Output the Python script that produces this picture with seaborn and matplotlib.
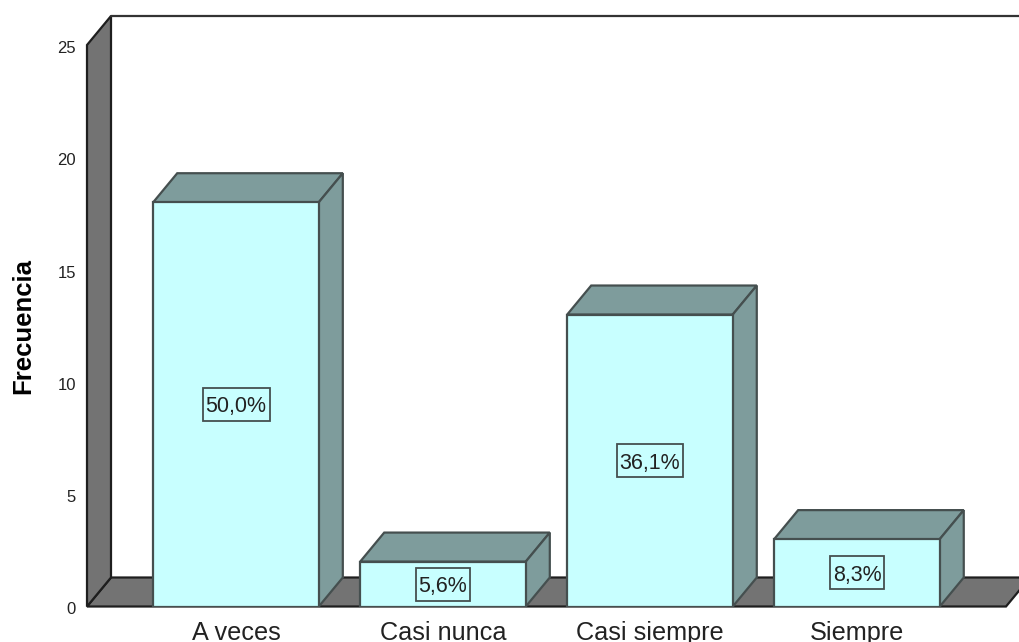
import matplotlib
matplotlib.use('Agg')
import matplotlib.pyplot as plt
import matplotlib.transforms as mtrans
import seaborn as sns
import pandas as pd
from matplotlib.patches import Polygon, Rectangle

# Datos
categorias = ['A veces', 'Casi nunca', 'Casi siempre', 'Siempre']
frecuencias = [18, 2, 13, 3]
porcentajes = ['50,0%', '5,6%', '36,1%', '8,3%']
ticks_y = [0, 5, 10, 15, 20, 25]

color_frente = '#C8FFFF'
color_lado = '#7E9C9C'
color_pared = '#737373'
color_borde = '#454F4F'

sns.set_theme(style='white')
plt.rcParams['font.family'] = ['Liberation Sans', 'DejaVu Sans']

W, H = 1019, 642
fig = plt.figure(figsize=(W / 100, H / 100), dpi=100)
# plano frontal del grafico, en pixeles de la imagen
x0, x1, y_cero, y_25 = 87, 1006, 606.5, 45
ax = fig.add_axes([x0 / W, 1 - y_cero / H, (x1 - x0) / W, (y_cero - y_25) / H])

df = pd.DataFrame({'categoria': categorias, 'frecuencia': frecuencias})
sns.barplot(data=df, x='categoria', y='frecuencia', ax=ax, color=color_frente, saturation=1,
            width=0.8, edgecolor=color_borde, linewidth=1.6, zorder=5)
ax.set_xlim(-0.72, 3.72)
ax.set_ylim(0, 25)

# Profundidad del efecto 3D, en unidades de datos
dx = 24 / ((x1 - x0) / 4.44)
dy = 29 / ((y_cero - y_25) / 25)
xi, xf = ax.get_xlim()
ytop = ax.get_ylim()[1]

# Piso y pared izquierda
ax.add_patch(Polygon([(xi, 0), (xf, 0), (xf + dx, dy), (xi + dx, dy)], closed=True, clip_on=False,
                     facecolor=color_pared, edgecolor='#1E1E1E', linewidth=1.6, zorder=1))
ax.add_patch(Polygon([(xi, 0), (xi + dx, dy), (xi + dx, ytop + dy), (xi, ytop)], closed=True, clip_on=False,
                     facecolor=color_pared, edgecolor='#1E1E1E', linewidth=1.6, zorder=1))
ax.plot([xi + dx, xf + dx], [ytop + dy, ytop + dy], color='#333333', lw=1.6, clip_on=False, zorder=1)

# Caras superior y lateral de cada barra
textos = []
for barra, etiqueta in zip(list(ax.patches[:len(categorias)]), porcentajes):
    a = barra.get_x()
    b = a + barra.get_width()
    h = barra.get_height()
    ax.add_patch(Polygon([(a, h), (b, h), (b + dx, h + dy), (a + dx, h + dy)], closed=True, clip_on=False,
                         facecolor=color_lado, edgecolor=color_borde, linewidth=1.6, zorder=4))
    ax.add_patch(Polygon([(b, 0), (b + dx, dy), (b + dx, h + dy), (b, h)], closed=True, clip_on=False,
                         facecolor=color_lado, edgecolor=color_borde, linewidth=1.6, zorder=4))
    textos.append(ax.text((a + b) / 2, h / 2, etiqueta, ha='center', va='center_baseline', fontsize=15.5,
                          color='#222222', zorder=7))

# Recuadro de cada porcentaje, mas alto que el que da bbox
fig.canvas.draw()
for t in textos:
    caja = t.get_window_extent()
    cx = (caja.x0 + caja.x1) / 2
    cy = t.get_transform().transform(t.get_position())[1]
    ancho = caja.width + 6
    fig.add_artist(Rectangle((cx - ancho / 2, cy - 16.5), ancho, 33, transform=mtrans.IdentityTransform(),
                             facecolor='none', edgecolor=color_borde, linewidth=1.3, zorder=8))

sns.despine(ax=ax, left=True, bottom=True, top=True, right=True)
ax.set_yticks(ticks_y)
ax.tick_params(axis='y', length=0, pad=8, labelsize=12, labelcolor='#222222')
ax.tick_params(axis='x', length=0, pad=10.5, labelsize=18.2, labelcolor='#222222')
# los numeros del eje quedan un poco mas abajo que el plano
baja = mtrans.ScaledTranslation(0, -2 / 100, fig.dpi_scale_trans)
for lab in ax.get_yticklabels():
    lab.set_transform(lab.get_transform() + baja)
ax.set_xlabel('')
ax.set_ylabel('')
fig.text(23 / W, 1 - 326 / H, 'Frecuencia', rotation=90, ha='center', va='center',
         fontsize=18.5, fontweight='bold', color='black')

fig.savefig('out.png', dpi=100)
